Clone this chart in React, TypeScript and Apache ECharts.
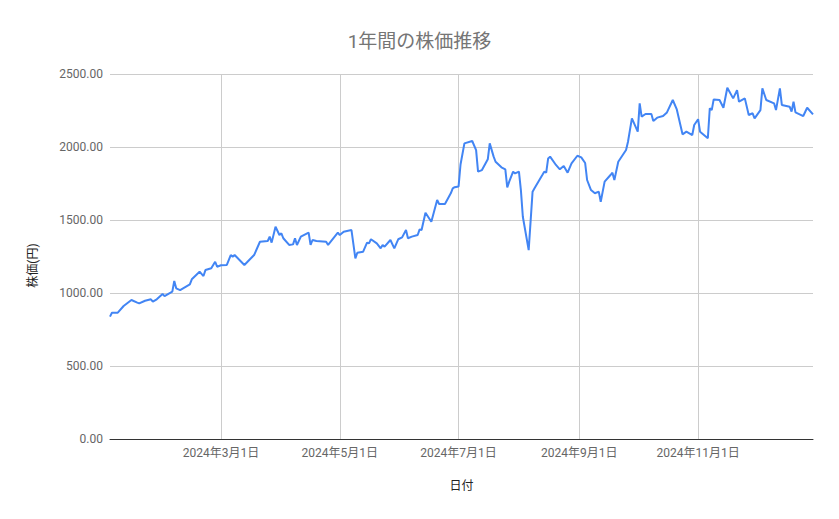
import React, { useEffect, useRef } from "react";
import * as echarts from "echarts";

const dates: string[] = [
  "2024-01-04", "2024-01-05", "2024-01-08", "2024-01-11", "2024-01-15", "2024-01-18", "2024-01-19", "2024-01-22",
  "2024-01-25", "2024-01-26", "2024-01-28", "2024-01-31", "2024-02-01", "2024-02-05", "2024-02-06", "2024-02-07",
  "2024-02-09", "2024-02-14", "2024-02-15", "2024-02-19", "2024-02-21", "2024-02-22", "2024-02-25", "2024-02-27",
  "2024-02-28", "2024-03-01", "2024-03-04", "2024-03-06", "2024-03-07", "2024-03-08", "2024-03-13", "2024-03-18",
  "2024-03-21", "2024-03-25", "2024-03-26", "2024-03-27", "2024-03-29", "2024-03-31", "2024-04-01", "2024-04-02",
  "2024-04-05", "2024-04-07", "2024-04-08", "2024-04-09", "2024-04-11", "2024-04-15", "2024-04-16", "2024-04-17",
  "2024-04-19", "2024-04-24", "2024-04-25", "2024-04-30", "2024-05-01", "2024-05-03", "2024-05-07", "2024-05-09",
  "2024-05-10", "2024-05-13", "2024-05-15", "2024-05-16", "2024-05-17", "2024-05-20", "2024-05-22", "2024-05-23",
  "2024-05-24", "2024-05-27", "2024-05-29", "2024-05-31", "2024-06-02", "2024-06-04", "2024-06-05", "2024-06-07",
  "2024-06-10", "2024-06-11", "2024-06-12", "2024-06-14", "2024-06-17", "2024-06-20", "2024-06-21", "2024-06-24",
  "2024-06-27", "2024-06-28", "2024-06-29", "2024-07-01", "2024-07-02", "2024-07-04", "2024-07-08", "2024-07-10",
  "2024-07-11", "2024-07-13", "2024-07-16", "2024-07-17", "2024-07-19", "2024-07-20", "2024-07-23", "2024-07-25",
  "2024-07-26", "2024-07-27", "2024-07-29", "2024-07-30", "2024-08-01", "2024-08-02", "2024-08-03", "2024-08-06",
  "2024-08-08", "2024-08-09", "2024-08-13", "2024-08-14", "2024-08-15", "2024-08-16", "2024-08-17", "2024-08-20",
  "2024-08-22", "2024-08-24", "2024-08-26", "2024-08-28", "2024-08-31", "2024-09-02", "2024-09-04", "2024-09-05",
  "2024-09-07", "2024-09-09", "2024-09-11", "2024-09-12", "2024-09-14", "2024-09-17", "2024-09-18", "2024-09-19",
  "2024-09-21", "2024-09-25", "2024-09-26", "2024-09-28", "2024-10-01", "2024-10-02", "2024-10-03", "2024-10-05",
  "2024-10-08", "2024-10-09", "2024-10-11", "2024-10-14", "2024-10-16", "2024-10-19", "2024-10-21", "2024-10-24",
  "2024-10-26", "2024-10-29", "2024-10-30", "2024-11-01", "2024-11-02", "2024-11-06", "2024-11-07", "2024-11-08",
  "2024-11-09", "2024-11-12", "2024-11-14", "2024-11-16", "2024-11-19", "2024-11-21", "2024-11-22", "2024-11-25",
  "2024-11-27", "2024-11-29", "2024-11-30", "2024-12-03", "2024-12-04", "2024-12-06", "2024-12-10", "2024-12-11",
  "2024-12-13", "2024-12-14", "2024-12-18", "2024-12-19", "2024-12-20", "2024-12-21", "2024-12-25", "2024-12-27",
  "2024-12-30",
];

const prices: number[] = [
  838, 865, 865, 911, 952, 934, 929, 947,
  957, 941, 957, 993, 979, 1009, 1082, 1032,
  1020, 1059, 1094, 1146, 1116, 1157, 1169, 1214,
  1180, 1190, 1192, 1260, 1249, 1260, 1192, 1260,
  1351, 1356, 1386, 1345, 1454, 1397, 1409, 1375,
  1329, 1333, 1375, 1329, 1386, 1413, 1329, 1363,
  1356, 1351, 1329, 1413, 1397, 1420, 1431, 1237,
  1276, 1283, 1345, 1340, 1368, 1340, 1306, 1329,
  1317, 1363, 1306, 1368, 1381, 1431, 1375, 1386,
  1397, 1436, 1431, 1550, 1488, 1637, 1610, 1610,
  1683, 1717, 1725, 1730, 1880, 2025, 2041, 1979,
  1831, 1842, 1916, 2025, 1934, 1899, 1861, 1847,
  1723, 1763, 1831, 1819, 1831, 1705, 1522, 1294,
  1694, 1717, 1808, 1831, 1824, 1922, 1934, 1877,
  1847, 1870, 1824, 1888, 1940, 1929, 1890, 1774,
  1705, 1683, 1694, 1625, 1763, 1808, 1824, 1774,
  1899, 1979, 2036, 2196, 2105, 2299, 2208, 2226,
  2226, 2178, 2201, 2212, 2237, 2322, 2260, 2087,
  2105, 2082, 2151, 2190, 2105, 2060, 2265, 2253,
  2326, 2322, 2269, 2406, 2333, 2390, 2310, 2333,
  2219, 2231, 2196, 2253, 2402, 2322, 2299, 2253,
  2402, 2288, 2276, 2242, 2310, 2237, 2212, 2269,
  2223,
];

const tickDates: string[] = ["2024-03-01", "2024-05-01", "2024-07-01", "2024-09-01", "2024-11-01"];
const yTicks: number[] = [0, 500, 1000, 1500, 2000, 2500];

const TITLE = "1年間の株価推移";
const X_NAME = "日付";
const Y_NAME = "株価(円)";

const toTs = (s: string): number => {
  const [y, m, d] = s.split("-").map(Number);
  return new Date(y, m - 1, d).getTime();
};

const FONT = "Roboto, 'Noto Sans CJK JP', sans-serif";

export default function App() {
  const ref = useRef<HTMLDivElement>(null);

  useEffect(() => {
    if (!ref.current) return;
    const chart = echarts.init(ref.current, undefined, { renderer: "svg" });
    const seriesData = dates.map((d, i) => [toTs(d), prices[i]]);
    const tickTs = tickDates.map(toTs);
    chart.setOption({
      animation: false,
      backgroundColor: "#ffffff",
      textStyle: { fontFamily: FONT },
      title: {
        text: TITLE,
        left: "center",
        top: 27,
        textStyle: { fontFamily: FONT, fontSize: 19, fontWeight: "normal", color: "#757575" },
      },
      grid: { left: 110, right: 26, top: 74, bottom: 80, containLabel: false },
      xAxis: {
        type: "value",
        min: toTs(dates[0]),
        max: toTs(dates[dates.length - 1]),
        name: X_NAME,
        nameLocation: "middle",
        nameGap: 41,
        nameTextStyle: { fontFamily: FONT, fontSize: 12, color: "#222222" },
        axisLine: { show: true, onZero: false, lineStyle: { color: "#333333", width: 1 } },
        axisTick: { show: false, customValues: tickTs },
        axisLabel: {
          customValues: tickTs,
          margin: 8,
          fontFamily: FONT,
          fontSize: 12,
          color: "#666666",
          formatter: (v: number) => {
            const d = new Date(v);
            return `${d.getFullYear()}年${d.getMonth() + 1}月${d.getDate()}日`;
          },
        },
        splitLine: { show: true, lineStyle: { color: "#cccccc", width: 1 } },
      },
      yAxis: {
        type: "value",
        min: yTicks[0],
        max: yTicks[yTicks.length - 1],
        interval: yTicks[1] - yTicks[0],
        name: Y_NAME,
        nameLocation: "middle",
        nameRotate: 90,
        nameGap: 71,
        nameTextStyle: { fontFamily: FONT, fontSize: 12, color: "#222222", padding: [0, 18, 0, 0] },
        axisLine: { show: false },
        axisTick: { show: false },
        axisLabel: {
          margin: 7,
          fontFamily: FONT,
          fontSize: 12,
          color: "#666666",
          formatter: (v: number) => v.toFixed(2),
        },
        splitLine: { show: true, lineStyle: { color: "#cccccc", width: 1 } },
      },
      series: [
        {
          type: "line",
          data: seriesData,
          showSymbol: false,
          symbol: "none",
          lineStyle: { color: "#4285F4", width: 2 },
          itemStyle: { color: "#4285F4" },
        },
      ],
    });
    return () => chart.dispose();
  }, []);

  return (
    <div
      ref={ref}
      style={{ position: "fixed", left: 0, top: 0, width: 839, height: 519, background: "#fff" }}
    />
  );
}
